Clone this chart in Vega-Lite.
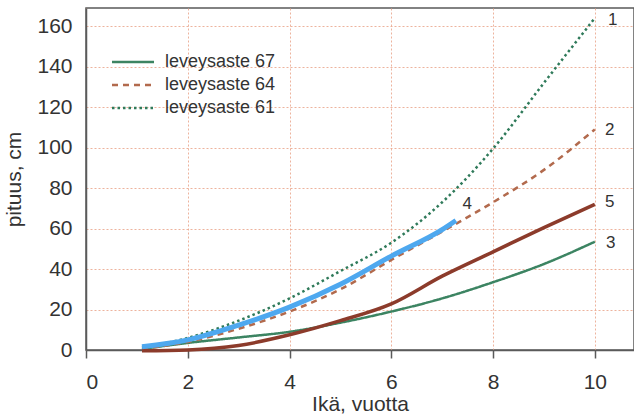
{
  "$schema": "https://vega.github.io/schema/vega-lite/v6.json",
  "width": 548,
  "height": 342,
  "autosize": {"type": "none"},
  "padding": {"left": 86, "top": 8, "right": 0, "bottom": 68},
  "background": "white",
  "config": {
    "font": "Liberation Sans",
    "view": {"stroke": "#5a5a5a", "strokeWidth": 1.5},
    "axis": {
      "labelFont": "Liberation Sans",
      "titleFont": "Liberation Sans",
      "labelColor": "#333333",
      "titleColor": "#333333",
      "labelFontSize": 21,
      "titleFontSize": 21,
      "titleFontWeight": "normal",
      "domainColor": "#5a5a5a",
      "domainWidth": 1.5,
      "tickColor": "#5a5a5a",
      "tickWidth": 1.5,
      "gridColor": "#eaa68c",
      "gridDash": [2, 2],
      "gridWidth": 1,
      "gridOpacity": 0.85
    }
  },
  "datasets": {
    "lines": [
      {"s": "leveysaste 67", "x": 1.1, "y": 0.5},
      {"s": "leveysaste 67", "x": 2, "y": 3.5},
      {"s": "leveysaste 67", "x": 3, "y": 6.2},
      {"s": "leveysaste 67", "x": 4, "y": 9},
      {"s": "leveysaste 67", "x": 5, "y": 13.5},
      {"s": "leveysaste 67", "x": 6, "y": 19},
      {"s": "leveysaste 67", "x": 7, "y": 25.5},
      {"s": "leveysaste 67", "x": 8, "y": 33.5},
      {"s": "leveysaste 67", "x": 9, "y": 42.5},
      {"s": "leveysaste 67", "x": 10, "y": 53.5},
      {"s": "leveysaste 64", "x": 1.1, "y": 0.5},
      {"s": "leveysaste 64", "x": 2, "y": 4},
      {"s": "leveysaste 64", "x": 3, "y": 10.5},
      {"s": "leveysaste 64", "x": 4, "y": 19},
      {"s": "leveysaste 64", "x": 5, "y": 30},
      {"s": "leveysaste 64", "x": 6, "y": 44.5},
      {"s": "leveysaste 64", "x": 7, "y": 58.5},
      {"s": "leveysaste 64", "x": 8, "y": 73},
      {"s": "leveysaste 64", "x": 9, "y": 89},
      {"s": "leveysaste 64", "x": 10, "y": 109},
      {"s": "leveysaste 61", "x": 1.1, "y": 1.2},
      {"s": "leveysaste 61", "x": 2, "y": 6},
      {"s": "leveysaste 61", "x": 3, "y": 14.5},
      {"s": "leveysaste 61", "x": 4, "y": 25.5},
      {"s": "leveysaste 61", "x": 5, "y": 39},
      {"s": "leveysaste 61", "x": 6, "y": 53},
      {"s": "leveysaste 61", "x": 7, "y": 73},
      {"s": "leveysaste 61", "x": 8, "y": 99.5},
      {"s": "leveysaste 61", "x": 9, "y": 132},
      {"s": "leveysaste 61", "x": 10, "y": 164}
    ],
    "extra": [
      {"s": "5", "x": 1.1, "y": -0.4},
      {"s": "5", "x": 2, "y": 0},
      {"s": "5", "x": 3, "y": 2.2},
      {"s": "5", "x": 4, "y": 7.5},
      {"s": "5", "x": 5, "y": 14.5},
      {"s": "5", "x": 6, "y": 22.8},
      {"s": "5", "x": 7, "y": 36.5},
      {"s": "5", "x": 8, "y": 48.5},
      {"s": "5", "x": 9, "y": 60.5},
      {"s": "5", "x": 10, "y": 72},
      {"s": "4", "x": 1.1, "y": 1.6},
      {"s": "4", "x": 2, "y": 5},
      {"s": "4", "x": 3, "y": 12.3},
      {"s": "4", "x": 4, "y": 21.2},
      {"s": "4", "x": 5, "y": 32.5},
      {"s": "4", "x": 6, "y": 46.4},
      {"s": "4", "x": 7, "y": 59.5},
      {"s": "4", "x": 7.27, "y": 64}
    ],
    "labels": [
      {"t": "1", "x": 10.26, "y": 163},
      {"t": "2", "x": 10.2, "y": 108.5},
      {"t": "3", "x": 10.22, "y": 53},
      {"t": "4", "x": 7.4, "y": 72},
      {"t": "5", "x": 10.2, "y": 73}
    ]
  },
  "layer": [
    {
      "data": {"name": "lines"},
      "mark": {"type": "line", "interpolate": "monotone", "strokeWidth": 2.5, "strokeCap": "butt"},
      "encoding": {
        "x": {
          "field": "x", "type": "quantitative",
          "scale": {"domain": [0, 10.77], "nice": false, "zero": false},
          "axis": {"values": [0, 2, 4, 6, 8, 10], "title": "Ikä, vuotta", "tickSize": 8, "labelPadding": 13, "titlePadding": 1, "grid": true}
        },
        "y": {
          "field": "y", "type": "quantitative",
          "scale": {"domain": [0, 169], "nice": false, "zero": false},
          "axis": {"values": [0, 20, 40, 60, 80, 100, 120, 140, 160], "title": "pituus, cm", "tickSize": 0, "labelPadding": 14, "titlePadding": 12, "grid": true}
        },
        "color": {
          "field": "s", "type": "nominal",
          "scale": {"domain": ["leveysaste 67", "leveysaste 64", "leveysaste 61"], "range": ["#3c8462", "#b26a4d", "#2f7a5a"]},
          "legend": {
            "title": null,
            "orient": "none",
            "legendX": 38,
            "legendY": 45,
            "symbolType": "M-3,0H3",
            "symbolSize": 196,
            "symbolStrokeWidth": 2.5,
            "labelFontSize": 18,
            "labelFont": "Liberation Sans",
            "labelColor": "#333333",
            "labelOffset": 23,
            "rowPadding": 5
          }
        },
        "strokeDash": {
          "field": "s", "type": "nominal",
          "scale": {"domain": ["leveysaste 67", "leveysaste 64", "leveysaste 61"], "range": [[1, 0], [6, 5], [2.5, 3]]},
          "legend": null
        }
      }
    },
    {
      "data": {"name": "extra"},
      "transform": [{"filter": "datum.s === '5'"}],
      "mark": {"type": "line", "interpolate": "monotone", "strokeWidth": 3.5, "color": "#8c3b2b"},
      "encoding": {
        "x": {"field": "x", "type": "quantitative"},
        "y": {"field": "y", "type": "quantitative"}
      }
    },
    {
      "data": {"name": "extra"},
      "transform": [{"filter": "datum.s === '4'"}],
      "mark": {"type": "line", "interpolate": "monotone", "strokeWidth": 5, "color": "#4ea8ef"},
      "encoding": {
        "x": {"field": "x", "type": "quantitative"},
        "y": {"field": "y", "type": "quantitative"}
      }
    },
    {
      "data": {"name": "labels"},
      "mark": {"type": "text", "align": "left", "baseline": "middle", "fontSize": 17, "color": "#333333", "font": "Liberation Sans"},
      "encoding": {
        "x": {"field": "x", "type": "quantitative"},
        "y": {"field": "y", "type": "quantitative"},
        "text": {"field": "t"}
      }
    }
  ]
}
